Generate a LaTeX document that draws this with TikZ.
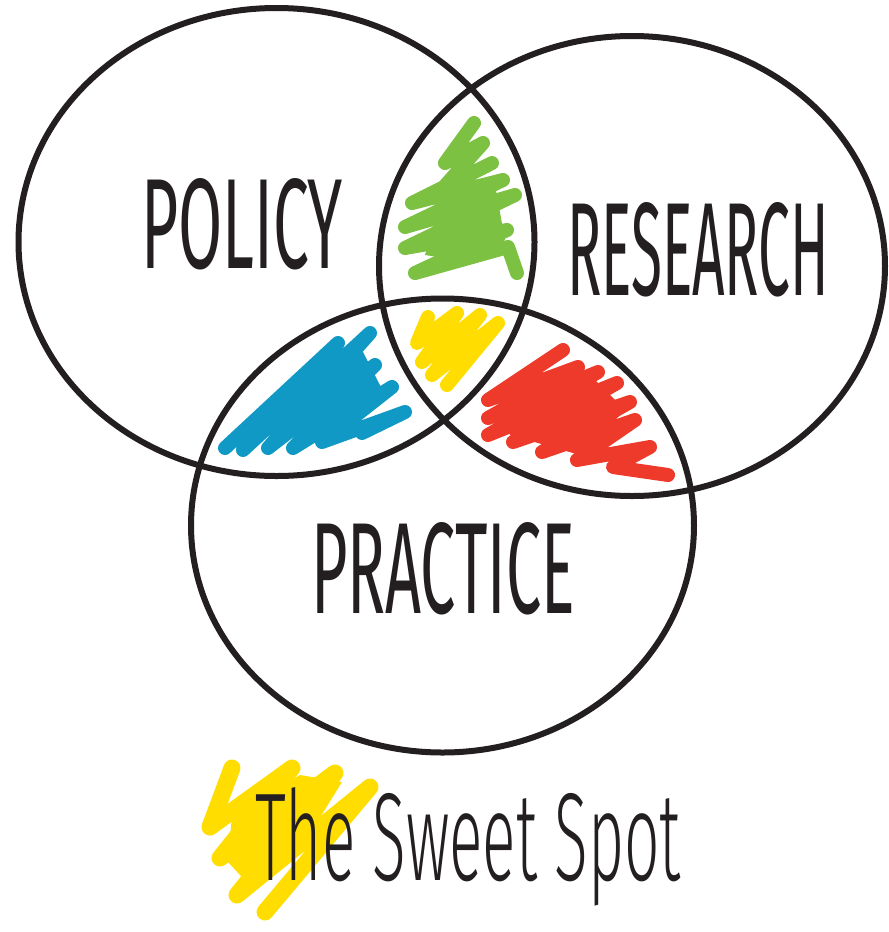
\documentclass[tikz,border=0pt]{standalone}
\usepackage{fontspec}
\setmainfont{Fira Sans}
\IfFontExistsTF{Fira Sans Light}
  {\newfontfamily\handfont{Fira Sans Light}}
  {\newfontfamily\handfont{Fira Sans}}
\IfFontExistsTF{Fira Sans Book}
  {\newfontfamily\capsfont{Fira Sans Book}}
  {\newfontfamily\capsfont{Fira Sans}}
\usepackage{graphicx}
\definecolor{ink}{RGB}{35,31,32}
\definecolor{scrgreen}{RGB}{125,193,66}
\definecolor{scryellow}{RGB}{255,221,0}
\definecolor{scrblue}{RGB}{17,153,198}
\definecolor{scrred}{RGB}{238,58,43}
\tikzset{
  ring/.style={draw=ink, line width=6pt},
  scribble/.style={line width=#1, line cap=round, line join=round},
  scribble/.default=14pt,
  label/.style={anchor=base west, inner sep=0pt, outer sep=0pt, text=ink}
}
\begin{document}
\begin{tikzpicture}[x=1pt, y=-1pt]
\useasboundingbox[fill=white] (0,0) rectangle (889,932);

% coloured scribbles in the overlaps
\draw[scribble, scrgreen]
  (474,123) -- (445,163) -- (483,143) -- (443,188) -- (492,163) -- (412,203)
  -- (503,180) -- (405,227) -- (515,195) -- (405,248) -- (507,230) -- (415,273)
  -- (508,247) -- (517,273);
\fill[scrgreen] (440,200) -- (495,185) -- (505,240) -- (470,262) -- (425,255) -- cycle;
\draw[scribble, scrblue]
  (225,448) -- (338,343)
  (243,450) -- (370,333) -- (268,448) -- (375,365) -- (293,448) -- (392,387)
  -- (322,442) -- (405,412) -- (362,433);
\fill[scrblue] (290,425) -- (362,350) -- (385,395) -- (330,440) -- cycle;
\draw[scribble, scryellow]
  (428,317) -- (417,343) -- (457,313) -- (422,362) -- (480,315) -- (432,375)
  -- (498,323) -- (447,385);
\fill[scryellow] (430,340) -- (470,322) -- (475,345) -- (445,370) -- cycle;
\draw[scribble, scrred]
  (563,350) -- (488,400) -- (578,367) -- (488,418) -- (598,372) -- (488,435)
  -- (617,383) -- (513,442) -- (630,402) -- (542,452) -- (635,420) -- (577,460)
  -- (650,447) -- (613,467) -- (668,475);
\fill[scrred] (500,400) -- (590,375) -- (625,410) -- (580,455) -- (510,435) -- cycle;

% the three circles
\coordinate (policy-c) at (276.5,242);
\coordinate (research-c) at (632,266);
\coordinate (practice-c) at (442.5,525.5);
\draw[ring] (policy-c) ellipse [x radius=258, y radius=234];
\draw[ring] (research-c) ellipse [x radius=253, y radius=230];
\draw[ring] (practice-c) ellipse [x radius=251.5, y radius=227];

% circle labels
\node[label] (policy) at (141,268)
  {\resizebox{202pt}{90pt}{\capsfont\fontsize{100}{100}\selectfont POLICY}};
\node[label] (research) at (567,295)
  {\resizebox{262pt}{93pt}{\capsfont\fontsize{100}{100}\selectfont RESEARCH}};
\node[label] (practice) at (311,613)
  {\resizebox{264pt}{91pt}{\capsfont\fontsize{100}{100}\selectfont PRACTICE}};

% sweet spot caption with its yellow mark
\draw[scribble=17pt, scryellow]
  (232,768) -- (210,827) -- (292,768) -- (220,858) -- (335,773) -- (237,895)
  -- (370,787) -- (265,912);
\fill[scryellow] (232,815) -- (300,775) -- (342,782) -- (300,850) -- (252,888)
  -- (228,862) -- cycle;
\node[label] (sweet) at (255,880)
  {\resizebox{426pt}{93pt}{\handfont\fontsize{100}{100}\selectfont The Sweet Spot}};
\end{tikzpicture}
\end{document}
